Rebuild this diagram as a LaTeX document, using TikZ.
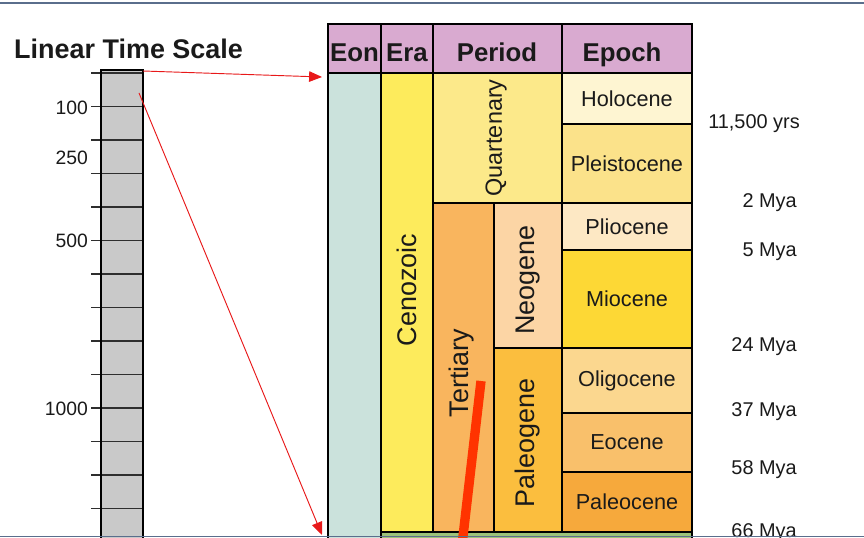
\documentclass[tikz,border=0pt]{standalone}
\usepackage{fontspec}
\setmainfont{Liberation Sans}
\usetikzlibrary{arrows.meta, positioning, calc}
\definecolor{geoline}{HTML}{5A6E8C}
\definecolor{geoink}{HTML}{1A1A1A}
\definecolor{geohead}{HTML}{D9AAD0}
\definecolor{geoeon}{HTML}{CBE2DC}
\definecolor{geoera}{HTML}{FDEB5C}
\definecolor{geoquart}{HTML}{FCE98A}
\definecolor{geotert}{HTML}{F9B55E}
\definecolor{geoneo}{HTML}{FCD5A5}
\definecolor{geopaleo}{HTML}{FBBE3E}
\definecolor{geoholo}{HTML}{FEF5D2}
\definecolor{geopleist}{HTML}{FBE28A}
\definecolor{geoplio}{HTML}{FDE8C4}
\definecolor{geomio}{HTML}{FDD835}
\definecolor{geooligo}{HTML}{FBD78F}
\definecolor{geoeo}{HTML}{F9C06B}
\definecolor{geopaleoc}{HTML}{F6A93C}
\definecolor{geomeso}{HTML}{9CC27A}
\definecolor{bargrey}{HTML}{C9C9C9}
\definecolor{tickgrey}{HTML}{2E2E2E}
\definecolor{arrowred}{HTML}{E8191A}
\definecolor{markred}{HTML}{FF3300}
\tikzset{
  tablecell/.style={draw=black, line width=1.4pt},
  headtext/.style={font=\fontsize{22}{24}\selectfont\bfseries, text=geoink, anchor=base, inner sep=0pt},
  epochtext/.style={font=\fontsize{18.5}{20}\selectfont, text=geoink, inner sep=0pt},
  sidetext/.style={font=\fontsize{23}{25}\selectfont, text=geoink, rotate=90, inner sep=0pt},
  agetext/.style={font=\fontsize{17}{19}\selectfont, text=geoink, anchor=east, inner sep=0pt},
  scaletext/.style={font=\fontsize{16.5}{18}\selectfont, text=geoink, anchor=east, inner sep=0pt},
  scaletick/.style={draw=tickgrey, line width=1.5pt},
  zoomarrow/.style={draw=arrowred, line width=0.8pt, -{Triangle[length=11pt, width=9pt]}},
}

\begin{document}
\begin{tikzpicture}[x=0.03cm, y=-0.03cm]
  \clip (0,0) rectangle (864,538);
  \fill[white] (0,0) rectangle (864,538);

  % linear scale
  \node[font=\fontsize{23}{25}\selectfont\bfseries, text=geoink, anchor=base west, inner sep=0pt]
    (scaletitle) at (14,59) {Linear Time Scale};
  \fill[bargrey] (101,70) rectangle (143,540);
  \foreach \ty in {73,106.5,...,510} {
    \draw[scaletick] (91,\ty) -- (143,\ty);
  }
  \draw[black, line width=1.6pt] (101,540) -- (101,70) -- (143,70) -- (143,540);
  \node[scaletext] (s100)  at (88,108) {100};
  \node[scaletext] (s250)  at (88,158) {250};
  \node[scaletext] (s500)  at (88,241) {500};
  \node[scaletext] (s1000) at (88,409) {1000};

  % table cells
  \filldraw[tablecell, fill=geohead] (328,24) rectangle (692,73);
  \draw[tablecell] (381,24) -- (381,73) (433,24) -- (433,73) (562,24) -- (562,73);
  \filldraw[tablecell, fill=geoeon]   (328,73) rectangle (381,545);
  \filldraw[tablecell, fill=geomeso]  (381,532) rectangle (692,545);
  \filldraw[tablecell, fill=geoera]   (381,73) rectangle (433,532);
  \filldraw[tablecell, fill=geoquart] (433,73) rectangle (562,203);
  \filldraw[tablecell, fill=geotert]  (433,203) rectangle (494,532);
  \filldraw[tablecell, fill=geoneo]   (494,203) rectangle (562,348);
  \filldraw[tablecell, fill=geopaleo] (494,348) rectangle (562,532);
  \foreach \ytop/\ybot/\col/\name in {73/124/geoholo/Holocene, 124/203/geopleist/Pleistocene,
      203/250/geoplio/Pliocene, 250/348/geomio/Miocene, 348/413/geooligo/Oligocene,
      413/472/geoeo/Eocene, 472/532/geopaleoc/Paleocene} {
    \filldraw[tablecell, fill=\col] (562,\ytop) rectangle (692,\ybot);
    \node[epochtext] (ep-\name) at (627,{(\ytop+\ybot)/2}) {\name};
  }

  % headers
  \node[headtext] (hEon)    at (354.5,62) {Eon};
  \node[headtext] (hEra)    at (407,62)   {Era};
  \node[headtext] (hPeriod) at (497,62)   {Period};
  \node[headtext] (hEpoch)  at (622,62)   {Epoch};

  % rotated names
  \node[sidetext, font=\fontsize{20}{22}\selectfont] (quart) at (496,138) {Quartenary};
  \node[sidetext] (ceno)  at (407,290) {Cenozoic};
  \node[sidetext] (tert)  at (462,373) {Tertiary};
  \node[sidetext] (neo)   at (528,280) {Neogene};
  \node[sidetext] (paleo) at (528,443) {Paleogene};

  % ages
  \node[agetext] (a11k) at (800,124) {11,500 yrs};
  \node[agetext] (a2)   at (797,203) {2 Mya};
  \node[agetext] (a5)   at (797,252) {5 Mya};
  \node[agetext] (a24)  at (797,347) {24 Mya};
  \node[agetext] (a37)  at (797,412) {37 Mya};
  \node[agetext] (a58)  at (797,470) {58 Mya};
  \node[agetext] (a66)  at (797,533) {66 Mya};

  % zoom arrows
  \coordinate (bartop)   at (143,71);
  \coordinate (barmark)  at (139,93);
  \coordinate (tabtop)   at (322,77);
  \coordinate (tabfoot)  at (322,535);
  \draw[zoomarrow] (bartop) -- (tabtop);
  \draw[zoomarrow] (barmark) -- (tabfoot);

  % hand mark
  \coordinate (markA) at (481,381);
  \coordinate (markB) at (462,545);
  \draw[markred, line width=8pt] (markA) -- (markB);

  % frame lines
  \draw[geoline, line width=1.2pt] (0,3) -- (864,3);
  \draw[geoline, line width=1.2pt] (0,536.5) -- (864,536.5);
\end{tikzpicture}
\end{document}
